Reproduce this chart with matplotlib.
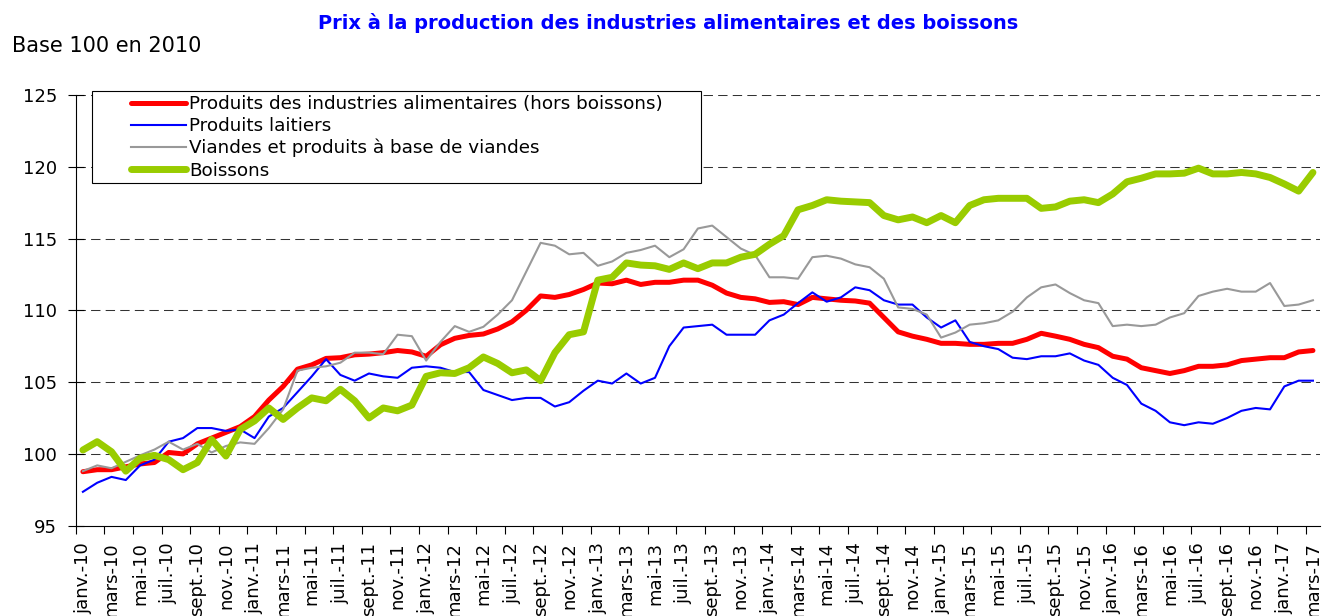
import numpy as np
import matplotlib
matplotlib.use("Agg")
import matplotlib.pyplot as plt
from matplotlib.patches import Rectangle

# monthly series, janv.-10 .. mars-17 (base 100 en 2010)
mois = ["janv.", "févr.", "mars", "avr.", "mai", "juin",
        "juil.", "août", "sept.", "oct.", "nov.", "déc."]
annees = ["10", "11", "12", "13", "14", "15", "16", "17"]

alimentaires = [98.76, 98.9, 98.9, 99.1, 99.3, 99.4, 100.1, 100.0, 100.7, 101.1, 101.5, 101.9,
                102.6, 103.75, 104.7, 105.9, 106.2, 106.65, 106.7, 106.9, 106.95, 107.05, 107.2, 107.1,
                106.8, 107.6, 108.05, 108.25, 108.35, 108.7, 109.2, 110.0, 111.0, 110.9, 111.1, 111.45,
                111.9, 111.85, 112.1, 111.8, 111.95, 111.95, 112.1, 112.1, 111.75, 111.2, 110.9, 110.8,
                110.55, 110.6, 110.4, 110.9, 110.8, 110.7, 110.65, 110.5, 109.5, 108.5, 108.2, 107.98,
                107.7, 107.7, 107.63, 107.63, 107.7, 107.7, 107.98, 108.4, 108.2, 107.98, 107.63, 107.4,
                106.8, 106.6, 106.0, 105.8, 105.6, 105.8, 106.1, 106.1, 106.2, 106.5, 106.6, 106.7,
                106.7, 107.1, 107.2]

laitiers = [97.36, 97.99, 98.4, 98.18, 99.2, 99.6, 100.85, 101.1, 101.8, 101.8, 101.6, 101.7,
            101.1, 102.6, 103.2, 104.3, 105.4, 106.6, 105.5, 105.1, 105.6, 105.4, 105.3, 106.0,
            106.1, 106.0, 105.7, 105.7, 104.45, 104.1, 103.75, 103.9, 103.9, 103.3, 103.6, 104.4,
            105.1, 104.9, 105.6, 104.9, 105.3, 107.5, 108.8, 108.9, 109.0, 108.3, 108.3, 108.3,
            109.3, 109.7, 110.5, 111.25, 110.6, 110.9, 111.6, 111.4, 110.7, 110.4, 110.4, 109.5,
            108.8, 109.3, 107.8, 107.5, 107.3, 106.7, 106.6, 106.8, 106.8, 107.0, 106.5, 106.2,
            105.3, 104.8, 103.5, 103.0, 102.2, 102.0, 102.2, 102.1, 102.5, 103.0, 103.2, 103.1,
            104.7, 105.1, 105.1]

viandes = [98.8, 99.2, 99.0, 99.45, 99.9, 100.3, 100.85, 100.3, 100.7, 100.1, 100.55, 100.8,
           100.7, 101.8, 103.1, 105.8, 106.0, 106.1, 106.35, 107.05, 107.05, 106.95, 108.3, 108.2,
           106.5, 107.8, 108.9, 108.5, 108.85, 109.7, 110.7, 112.7, 114.7, 114.5, 113.9, 114.0,
           113.1, 113.4, 114.0, 114.2, 114.5, 113.7, 114.25, 115.7, 115.9, 115.1, 114.3, 113.85,
           112.3, 112.3, 112.2, 113.7, 113.8, 113.6, 113.2, 113.0, 112.2, 110.2, 110.1, 109.7,
           108.1, 108.45, 109.0, 109.1, 109.3, 109.9, 110.9, 111.6, 111.8, 111.2, 110.7, 110.5,
           108.9, 109.0, 108.9, 109.0, 109.5, 109.8, 111.0, 111.3, 111.5, 111.3, 111.3, 111.9,
           110.3, 110.4, 110.7]

boissons = [100.27, 100.85, 100.15, 98.8, 99.7, 99.9, 99.6, 98.9, 99.4, 101.0, 99.85, 101.7,
            102.3, 103.2, 102.4, 103.2, 103.9, 103.7, 104.5, 103.7, 102.5, 103.2, 103.0, 103.4,
            105.4, 105.65, 105.6, 106.0, 106.75, 106.3, 105.65, 105.85, 105.1, 107.05, 108.3, 108.5,
            112.1, 112.3, 113.3, 113.15, 113.1, 112.85, 113.3, 112.9, 113.3, 113.3, 113.7, 113.9,
            114.6, 115.2, 117.0, 117.3, 117.7, 117.6, 117.55, 117.5, 116.6, 116.3, 116.5, 116.1,
            116.6, 116.1, 117.3, 117.7, 117.8, 117.8, 117.8, 117.1, 117.2, 117.6, 117.7, 117.5,
            118.1, 118.95, 119.2, 119.5, 119.5, 119.55, 119.9, 119.5, 119.5, 119.6, 119.5, 119.25,
            118.8, 118.3, 119.6]

n = len(alimentaires)
etiquettes = [m + "-" + a for a in annees for m in mois][:n]

fig = plt.figure(figsize=(13.29, 6.16), dpi=100)
ax = fig.add_axes([0.057, 0.1466, 0.9363, 0.6993])

x = np.arange(n)
l1, = ax.plot(x, alimentaires, color="#FF0000", lw=3.6, solid_capstyle="round", zorder=3)
l2, = ax.plot(x, laitiers, color="#0000FF", lw=1.5, zorder=4)
l3, = ax.plot(x, viandes, color="#999999", lw=1.5, zorder=5)
l4, = ax.plot(x, boissons, color="#99CC00", lw=5, solid_capstyle="round", zorder=6)

ax.set_xlim(-0.5, n - 0.5)
ax.set_ylim(95, 125)
ax.set_yticks(np.arange(95, 126, 5))
for v in range(100, 126, 5):
    ax.axhline(v, color="#333333", lw=0.75, ls=(0, (9, 5)), zorder=1)

ax.set_xticks(np.arange(-0.5, n - 1, 2))
ax.set_xticklabels([])
ax.set_xticks(x[::2], minor=True)
ax.set_xticklabels(etiquettes[::2], minor=True, rotation=90, fontsize=13)
ax.tick_params(axis="x", which="major", direction="out", length=5.5, width=0.8)
ax.tick_params(axis="x", which="minor", length=0, pad=12)
ax.tick_params(axis="y", direction="inout", length=12, width=0.8, pad=7.5, labelsize=13)

for s in ["top", "right"]:
    ax.spines[s].set_visible(False)
for s in ["left", "bottom"]:
    ax.spines[s].set_linewidth(0.8)

# legend box
ax.add_patch(Rectangle((0.0131, 0.795), 0.4892, 0.215, transform=ax.transAxes,
                       facecolor="white", edgecolor="black", lw=0.8, clip_on=False, zorder=7))
leg = ax.legend([l1, l2, l3, l4],
                ["Produits des industries alimentaires (hors boissons)", "Produits laitiers",
                 "Viandes et produits à base de viandes", "Boissons"],
                loc="upper left", bbox_to_anchor=(0.0444, 1.0), frameon=False,
                fontsize=13.2, borderpad=0, borderaxespad=0, handlelength=3.0,
                handletextpad=0.17, labelspacing=0.22)
leg.set_zorder(8)

fig.text(0.503, 0.963, "Prix à la production des industries alimentaires et des boissons",
         color="#0000FF", fontweight="bold", fontsize=14, ha="center", va="center")
fig.text(0.0088, 0.915, "Base 100 en 2010", fontsize=15, ha="left", va="baseline")

fig.savefig("out.png", dpi=100)
